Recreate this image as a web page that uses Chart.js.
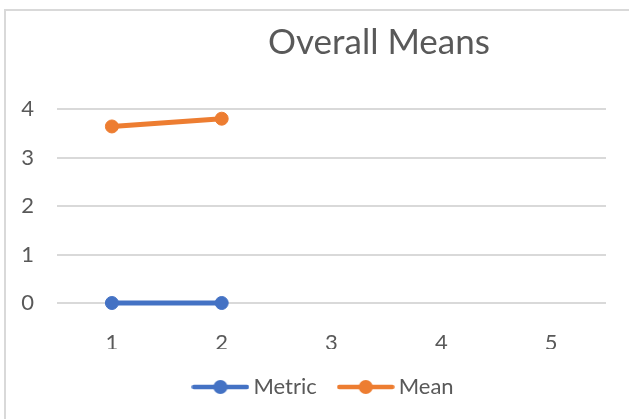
<!DOCTYPE html>
<html>
<head>
<meta charset="utf-8">
<script src="https://cdn.jsdelivr.net/npm/chart.js@4"></script>
<style>
  html, body { margin: 0; padding: 0; background: #ffffff; }
  #wrap { position: relative; width: 629px; height: 419px; overflow: hidden; }
  #frame { position: absolute; left: 4px; top: 9px; width: 700px; height: 500px;
           border-left: 2px solid #d9d9d9; border-top: 2px solid #d9d9d9; box-sizing: border-box; }
  canvas { position: absolute; left: 0; top: 0; }
</style>
</head>
<body>
<div id="wrap">
  <div id="frame"></div>
  <canvas id="chart" width="629" height="419"></canvas>
</div>
<script>
// Chart data
const categories = ['1', '2', '3', '4', '5'];
const metricValues = [0, 0];
const meanValues = [3.64, 3.80];
const seriesNames = ['Metric', 'Mean'];
const chartTitle = 'Overall Means';

const BLUE = '#4472C4';
const ORANGE = '#ED7D31';
const TEXT = '#595959';
const FONT = 'Lato, "Open Sans", sans-serif';

// Legend swatch: a short line with a marker in the middle
function legendSwatch(color) {
  const c = document.createElement('canvas');
  c.width = 58; c.height = 16;
  const g = c.getContext('2d');
  g.strokeStyle = color;
  g.lineWidth = 4.5;
  g.lineCap = 'round';
  g.beginPath(); g.moveTo(2.5, 8); g.lineTo(55.5, 8); g.stroke();
  g.fillStyle = color;
  g.beginPath(); g.arc(29, 8, 7, 0, Math.PI * 2); g.fill();
  return c;
}

// Title drawn at a fixed spot above the plot; legend shifted to sit under the plot
const titlePlugin = {
  id: 'offsetTitle',
  afterLayout(chart) {
    if (chart.legend) { chart.legend.left = 46; }
  },
  afterDraw(chart) {
    const ctx = chart.ctx;
    ctx.save();
    ctx.font = '35px ' + FONT;
    ctx.fillStyle = TEXT;
    ctx.textAlign = 'center';
    ctx.textBaseline = 'alphabetic';
    ctx.fillText(chartTitle, 379, 54);
    ctx.restore();
  }
};

new Chart(document.getElementById('chart'), {
  type: 'line',
  data: {
    labels: categories,
    datasets: [
      {
        label: seriesNames[0],
        data: metricValues,
        borderColor: BLUE,
        backgroundColor: BLUE,
        borderWidth: 5,
        pointRadius: 6.5,
        pointBorderWidth: 1,
        pointBackgroundColor: BLUE,
        pointBorderColor: BLUE,
        tension: 0,
        clip: false
      },
      {
        label: seriesNames[1],
        data: meanValues,
        borderColor: ORANGE,
        backgroundColor: ORANGE,
        borderWidth: 5,
        pointRadius: 6.5,
        pointBorderWidth: 1,
        pointBackgroundColor: ORANGE,
        pointBorderColor: ORANGE,
        tension: 0,
        clip: false
      }
    ]
  },
  options: {
    responsive: false,
    animation: false,
    devicePixelRatio: 1,
    layout: { padding: { left: 0, right: 23, top: 109, bottom: 11 } },
    scales: {
      x: {
        type: 'category',
        offset: true,
        grid: { display: false },
        border: { display: false },
        ticks: { color: TEXT, font: { family: FONT, size: 22 }, padding: 19, maxRotation: 0 },
        afterFit(scale) { scale.height = 46; }
      },
      y: {
        min: 0,
        max: 4,
        ticks: { stepSize: 1, color: TEXT, font: { family: FONT, size: 22 }, padding: 23 },
        grid: { color: '#d9d9d9', lineWidth: 2, drawTicks: false },
        border: { display: false },
        afterFit(scale) { scale.width = 57; }
      }
    },
    plugins: {
      title: { display: false },
      tooltip: { enabled: false },
      legend: {
        position: 'bottom',
        labels: {
          usePointStyle: true,
          pointStyleWidth: 44,
          color: TEXT,
          font: { family: FONT, size: 22 },
          padding: 27,
          generateLabels(chart) {
            return chart.data.datasets.map((ds, i) => ({
              text: ds.label,
              fillStyle: ds.borderColor,
              strokeStyle: ds.borderColor,
              lineWidth: 0,
              pointStyle: legendSwatch(ds.borderColor),
              fontColor: TEXT,
              hidden: false,
              datasetIndex: i
            }));
          }
        }
      }
    }
  },
  plugins: [titlePlugin]
});
</script>
</body>
</html>
